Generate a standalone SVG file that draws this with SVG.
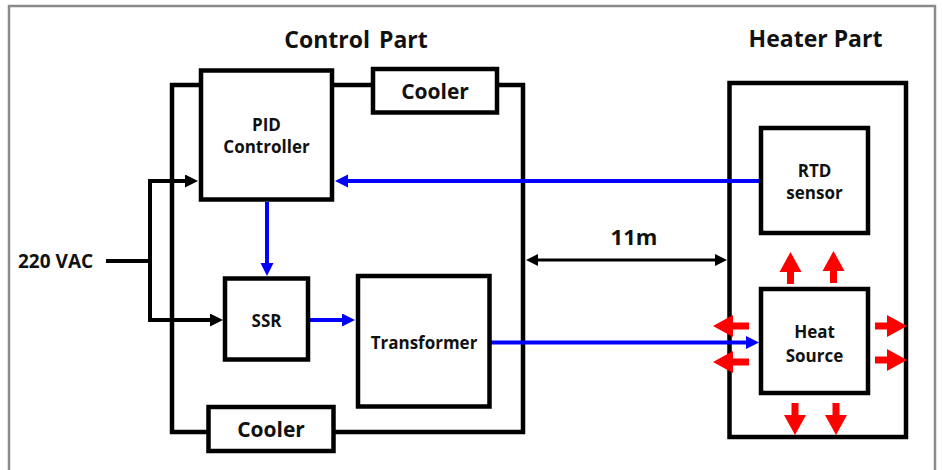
<svg xmlns="http://www.w3.org/2000/svg" width="942" height="470" viewBox="0 0 942 470">
<style>
.box{fill:#fff;stroke:#000;stroke-width:4.5}
.frame{fill:none;stroke:#000;stroke-width:4.5}
.t{font-family:"Open Sans","Noto Sans","Liberation Sans",sans-serif;font-weight:700;fill:#111;text-anchor:middle}
.lbl{font-size:17px}
.cool{font-size:21px}
.title{font-size:23px}
.blue{fill:none;stroke:#0000ff;stroke-width:4}
.blk{fill:none;stroke:#000;stroke-width:4}
.dim{fill:none;stroke:#000;stroke-width:3}
.heat{fill:#ff0000}
</style>
<defs>
<marker id="ab" markerUnits="userSpaceOnUse" markerWidth="14" markerHeight="14" refX="1" refY="6.5" orient="auto"><path d="M0,0 L13,6.5 L0,13 Z" fill="#0000ff"/></marker>
<marker id="ak" markerUnits="userSpaceOnUse" markerWidth="14" markerHeight="14" refX="1" refY="6.5" orient="auto"><path d="M0,0 L13,6.5 L0,13 Z" fill="#000"/></marker>
<marker id="ad" markerUnits="userSpaceOnUse" markerWidth="13" markerHeight="13" refX="1" refY="6" orient="auto-start-reverse"><path d="M0,0 L12,6 L0,12 Z" fill="#000"/></marker>
<path id="ra" d="M0,0 L11,20 L3.5,20 L3.5,32 L-3.5,32 L-3.5,20 L-11,20 Z"/>
<path id="ral" d="M0,0 L11,20 L3.5,20 L3.5,36 L-3.5,36 L-3.5,20 L-11,20 Z"/>
</defs>
<rect x="9" y="6" width="926" height="480" fill="none" stroke="#8a8a8a" stroke-width="2.5"/>
<text class="t title" x="356" y="48" word-spacing="3">Control Part</text>
<text class="t title" x="815.5" y="47">Heater Part</text>
<g id="control-part"><rect class="frame" x="172" y="85" width="351" height="347"/></g>
<g id="heater-part"><rect class="frame" x="729.5" y="83" width="176.5" height="354"/></g>
<g id="connectors">
<path class="blk" d="M106,261 H150"/>
<path class="blk" d="M150,181 V320"/>
<path class="blk" d="M148,181 H186" marker-end="url(#ak)"/>
<path class="blk" d="M148,320 H211" marker-end="url(#ak)"/>
<path class="blue" d="M761,181 H347" marker-end="url(#ab)"/>
<path class="blue" d="M267,202 V264" marker-end="url(#ab)"/>
<path class="blue" d="M310,320 H343" marker-end="url(#ab)"/>
<path class="blue" d="M491,342.5 H747" marker-end="url(#ab)"/>
<path class="dim" d="M537,260 H716" marker-start="url(#ad)" marker-end="url(#ad)"/>
</g>
<g id="pid-controller"><rect class="box" x="201" y="70.5" width="131" height="129"/>
<text class="t lbl" x="266.5" y="131">PID</text><text class="t lbl" x="266.5" y="153">Controller</text></g>
<g id="cooler-top"><rect class="box" x="373" y="69" width="124" height="43.5"/>
<text class="t cool" x="435" y="99">Cooler</text></g>
<g id="ssr"><rect class="box" x="225" y="278.5" width="83" height="81"/>
<text class="t lbl" x="266.5" y="327">SSR</text></g>
<g id="transformer"><rect class="box" x="358" y="276" width="131.5" height="130.5"/>
<text class="t lbl" x="424" y="349">Transformer</text></g>
<g id="cooler-bottom"><rect class="box" x="208.5" y="407" width="125" height="44"/>
<text class="t cool" x="271" y="437">Cooler</text></g>
<g id="rtd-sensor"><rect class="box" x="761" y="128" width="107" height="105"/>
<text class="t lbl" x="814.5" y="177">RTD</text><text class="t lbl" x="814.5" y="199">sensor</text></g>
<g id="heat-source"><rect class="box" x="761" y="289" width="107" height="104"/>
<text class="t lbl" x="814.5" y="338">Heat</text><text class="t lbl" x="814.5" y="362">Source</text></g>
<g id="heat-arrows" class="heat">
<use href="#ra" transform="translate(790.5,252)"/>
<use href="#ra" transform="translate(833.5,251)"/>
<use href="#ra" transform="translate(795,435) rotate(180)"/>
<use href="#ra" transform="translate(836,435) rotate(180)"/>
<use href="#ral" transform="translate(713,326) rotate(-90)"/>
<use href="#ral" transform="translate(713,362) rotate(-90)"/>
<use href="#ra" transform="translate(907,326) rotate(90)"/>
<use href="#ra" transform="translate(907,360) rotate(90)"/>
</g>
<text class="t" x="18" y="268" style="font-size:19px;text-anchor:start">220 VAC</text>
<text class="t" x="634" y="245" style="font-size:22px">11m</text>
</svg>
